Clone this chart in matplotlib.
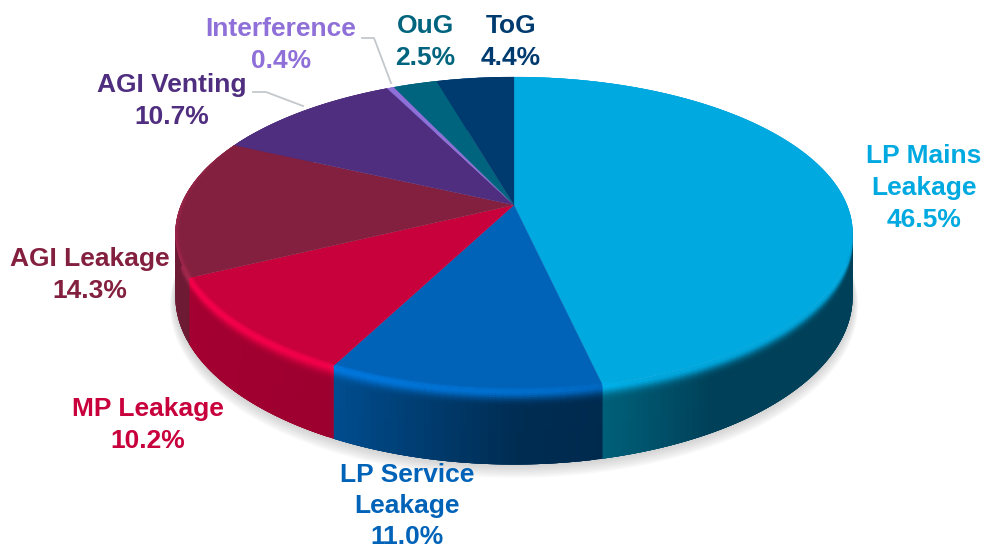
import numpy as np
import matplotlib
matplotlib.use("Agg")
import matplotlib.pyplot as plt
from matplotlib.collections import PolyCollection
from matplotlib.colors import to_rgb

plt.rcParams['font.family'] = ['Liberation Sans', 'DejaVu Sans']

categories = ['LP Mains\nLeakage', 'LP Service\nLeakage', 'MP Leakage', 'AGI Leakage',
              'AGI Venting', 'Interference', 'OuG', 'ToG']
values = [46.5, 11.0, 10.2, 14.3, 10.7, 0.4, 2.5, 4.4]
colors = ['#00A9E0', '#0063B8', '#C8003C', '#84203F', '#4F2D7F', '#8F6FD8', '#00647F', '#003B70']
label_xy = [(924, 188), (407, 506), (148, 425), (90, 275), (172, 101), (281, 45), (425, 42), (511, 42)]
label_spacing = [1.42, 1.36, 1.42, 1.42, 1.42, 1.42, 1.42, 1.42]

CX, CY, A, B, K, DEPTH = 514, 205, 333, 151.3, 0.182, 61

def project(theta, r=1.0, z=0.0):
    u, v = r * np.sin(theta), r * np.cos(theta)
    w = 1 + K * v
    return CX + A * u / w, CY - B * v / w + z / w

def wall_shade(deg):
    return np.interp(deg, [0, 167, 168, 180, 207, 243, 300, 360],
                     [.42, .42, .42, .45, .78, .82, .88, .88])

def highlight(deg):
    return np.interp(deg, [0, 160, 175, 205, 245, 285, 299, 360],
                     [0, 0, .45, .85, 1.0, .45, 0, 0])

fig = plt.figure(figsize=(9.85, 5.47), dpi=100)
ax = fig.add_axes([0, 0, 1, 1])
ax.set_xlim(0, 985)
ax.set_ylim(547, 0)
ax.axis('off')

fractions = np.array(values) / sum(values)
edges = np.concatenate([[0], np.cumsum(fractions)]) * 2 * np.pi

# soft shadow below the disc
ring = np.linspace(0, 2 * np.pi, 361)
for i in range(7):
    x, y = project(ring, 1.0 + 0.0022 * (7 - i), DEPTH + 1.1 * (7 - i))
    ax.fill(x, y, color='#808080', alpha=0.05, lw=0, zorder=1)

# rim profile from the flat top over the edge down the wall
top_r = np.linspace(0.982, 1.0, 7)
top_profile = [(r, 0) for r in top_r]
top_stage = np.exp(-((1 - top_r) / 0.008) ** 2)
wall_z = np.r_[np.linspace(0, 15, 11), 34, DEPTH]
wall_profile = [(1, z) for z in wall_z]
wall_stage = np.exp(-(wall_z / 6.0) ** 2)

def cell(a, b, p0, p1):
    xa0, ya0 = project(a, *p0)
    xb0, yb0 = project(b, *p0)
    xb1, yb1 = project(b, *p1)
    xa1, ya1 = project(a, *p1)
    return [(xa0, ya0), (xb0, yb0), (xb1, yb1), (xa1, ya1)]

wall_polys, wall_cols, top_polys, top_cols = [], [], [], []
for idx in range(len(values)):
    t0, t1 = edges[idx], edges[idx + 1]
    base = np.array(to_rgb(colors[idx]))
    n = max(2, int(np.degrees(t1 - t0)))
    ths = np.linspace(t0, t1, n + 1)
    step = ths[1] - ths[0]
    # paint with overlap so that neighbouring cells show no seams
    for a in ths[:-1]:
        b = min(a + 2 * step, t1)
        deg = np.degrees(a + step / 2)
        wall = base * wall_shade(deg)
        if idx == 0:
            wall = np.array(to_rgb('#004058'))
            if deg > 150:
                f = (deg - 150) / 17
                wall = wall * (1 - f) + np.array(to_rgb('#005F78')) * f
        hi = np.clip(base * (1 + 0.25 * highlight(deg)), 0, 1)
        for j in reversed(range(len(wall_profile) - 1)):
            s = (wall_stage[j] + wall_stage[j + 1]) / 2
            wall_polys.append(cell(a, b, wall_profile[j], wall_profile[min(j + 2, len(wall_profile) - 1)]))
            wall_cols.append(wall * (1 - s) + hi * s)
        if 165 < deg < 300:
            for j in reversed(range(len(top_profile) - 1)):
                s = (top_stage[j] + top_stage[j + 1]) / 2
                top_polys.append(cell(a, b, top_profile[j], top_profile[j + 1]))
                top_cols.append(base * (1 - s) + hi * s)

ax.add_collection(PolyCollection(wall_polys, facecolors=wall_cols, edgecolors='none', zorder=2))

# top surface
for t0, t1, col in zip(edges[:-1], edges[1:], colors):
    ths = np.linspace(t0, t1, 120)
    x, y = project(ths)
    ax.fill(np.r_[CX, x], np.r_[CY, y], color=col, lw=0.2, zorder=3)

ax.add_collection(PolyCollection(top_polys, facecolors=top_cols, edgecolors='none', zorder=4))

# leader lines
ax.plot([362, 374, 391], [38, 38, 83], color='#C3C8CC', lw=1.3, zorder=4)
ax.plot([253, 266, 303], [92, 92, 106], color='#C3C8CC', lw=1.3, zorder=4)

# labels
for name, val, col, (lx, ly), sp in zip(categories, values, colors, label_xy, label_spacing):
    ax.text(lx, ly, f'{name}\n{val:.1f}%', color=col, fontsize=19.0, fontweight='bold',
            ha='center', va='center', linespacing=sp, zorder=5)

fig.savefig('out.png', dpi=100)
